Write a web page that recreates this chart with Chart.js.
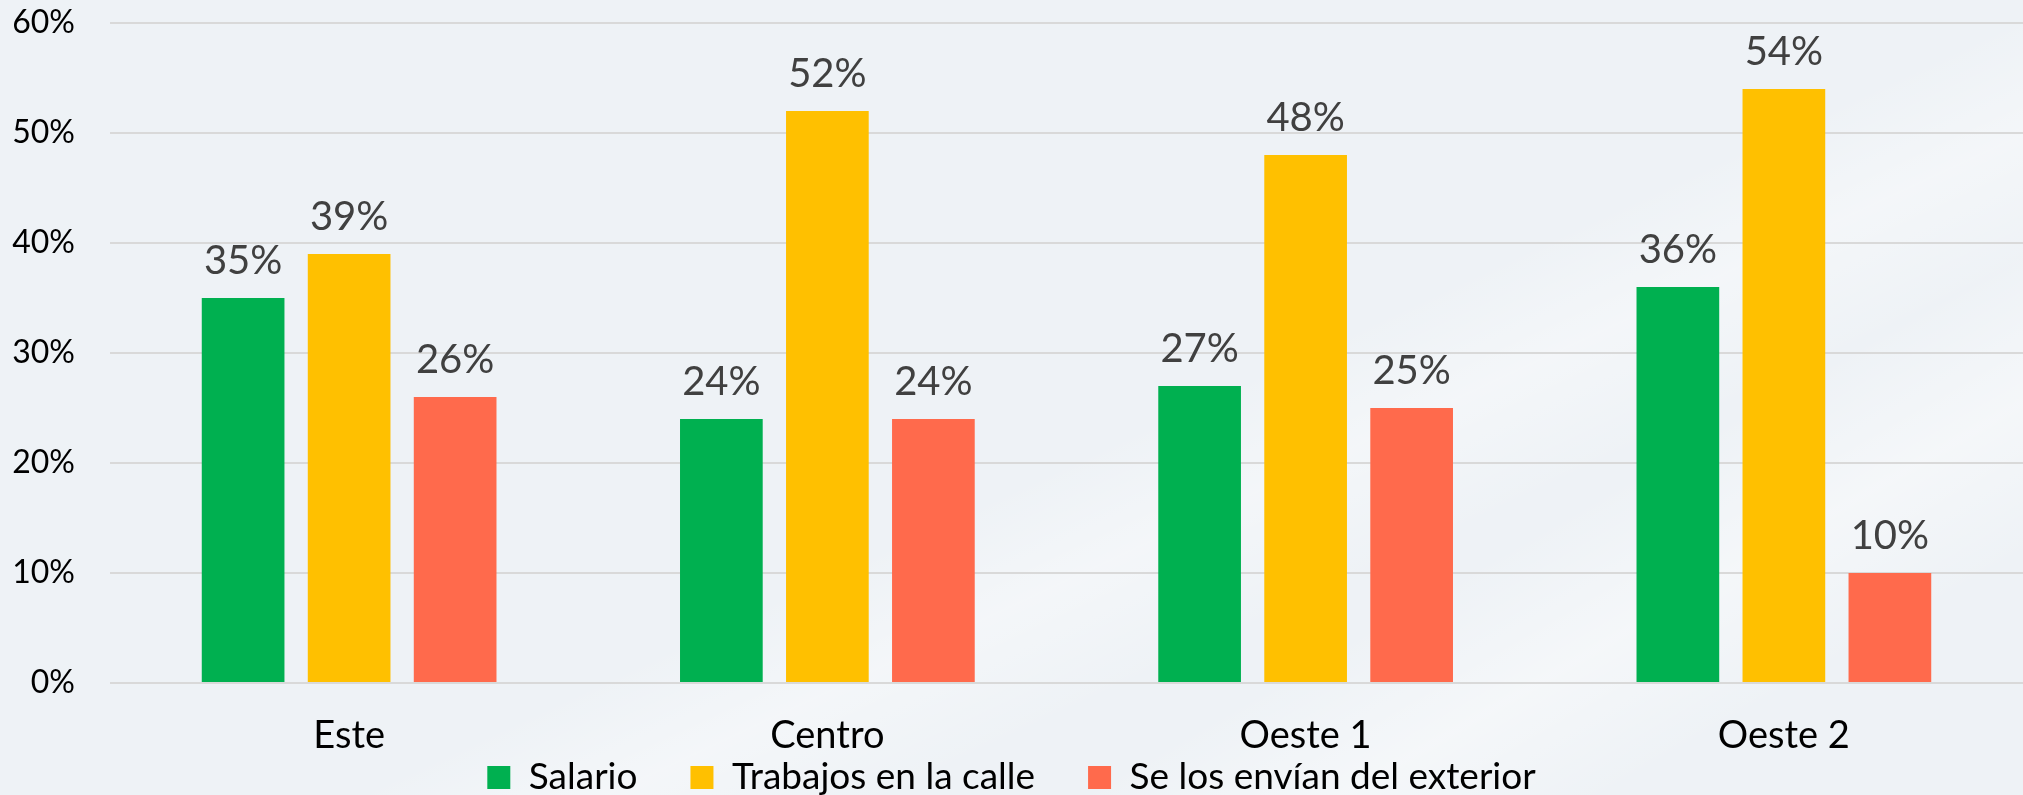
<!DOCTYPE html>
<html>
<head>
<meta charset="utf-8">
<script src="https://cdn.jsdelivr.net/npm/chart.js@4.4.0/dist/chart.umd.min.js"></script>
<style>
  html, body { margin: 0; padding: 0; }
  body {
    width: 2023px; height: 795px; overflow: hidden;
    background:
      linear-gradient(155deg, rgba(255,255,255,0) 55%, rgba(255,255,255,0.35) 62%, rgba(255,255,255,0) 70%),
      linear-gradient(150deg, rgba(255,255,255,0) 72%, rgba(255,255,255,0.4) 80%, rgba(255,255,255,0) 88%),
      #eef2f6;
  }
  #wrap { position: relative; width: 2023px; height: 795px; }
</style>
</head>
<body>
<div id="wrap"><canvas id="grafico"></canvas></div>
<script>
const regiones = ["Este", "Centro", "Oeste 1", "Oeste 2"];
const salario = [35, 24, 27, 36];
const trabajosCalle = [39, 52, 48, 54];
const exterior = [26, 24, 25, 10];
const nombresSeries = ["Salario", "Trabajos en la calle", "Se los envían del exterior"];
const cores = ["#00b050", "#ffc000", "#ff6a4c"];

const fonte = "Lato, 'Open Sans', sans-serif";

// etiquetas de valor encima de cada barra
const etiquetas = {
  id: "etiquetas",
  afterLayout(chart) {
    // deja que las etiquetas del eje x no queden recortadas
    chart.scales.x.bottom = chart.height;
  },
  afterDatasetsDraw(chart) {
    const ctx = chart.ctx;
    ctx.save();
    ctx.font = "40px " + fonte;
    ctx.fillStyle = "#404040";
    ctx.textAlign = "center";
    ctx.textBaseline = "alphabetic";
    chart.data.datasets.forEach((ds, i) => {
      chart.getDatasetMeta(i).data.forEach((bar, j) => {
        ctx.fillText(ds.data[j] + "%", bar.x, bar.y - 24);
      });
    });
    ctx.restore();
  }
};

new Chart(document.getElementById("grafico"), {
  type: "bar",
  data: {
    labels: regiones,
    datasets: [
      { label: nombresSeries[0], data: salario, backgroundColor: cores[0] },
      { label: nombresSeries[1], data: trabajosCalle, backgroundColor: cores[1] },
      { label: nombresSeries[2], data: exterior, backgroundColor: cores[2] }
    ]
  },
  options: {
    responsive: true,
    maintainAspectRatio: false,
    animation: false,
    categoryPercentage: 0.665,
    barPercentage: 0.78,
    layout: { padding: 0 },
    plugins: {
      tooltip: { enabled: false },
      legend: {
        position: "bottom",
        maxHeight: 89,
        labels: {
          boxWidth: 23,
          boxHeight: 23,
          padding: 53,
          color: "#000",
          font: { family: fonte, size: 37 }
        }
      }
    },
    scales: {
      x: {
        grid: { display: false, drawTicks: false },
        border: { display: false },
        ticks: { color: "#000", padding: 30, font: { family: fonte, size: 38 } },
        afterFit: s => { s.height = 23; }
      },
      y: {
        min: 0,
        max: 60,
        ticks: {
          stepSize: 10,
          color: "#000",
          padding: 35,
          font: { family: fonte, size: 32 },
          callback: v => v + "%"
        },
        grid: { color: "#d9d9d9", lineWidth: 2, drawTicks: false },
        border: { display: false },
        afterFit: s => { s.width = 110; s.paddingTop = 23; s.paddingBottom = 0; }
      }
    }
  },
  plugins: [etiquetas]
});
</script>
</body>
</html>
